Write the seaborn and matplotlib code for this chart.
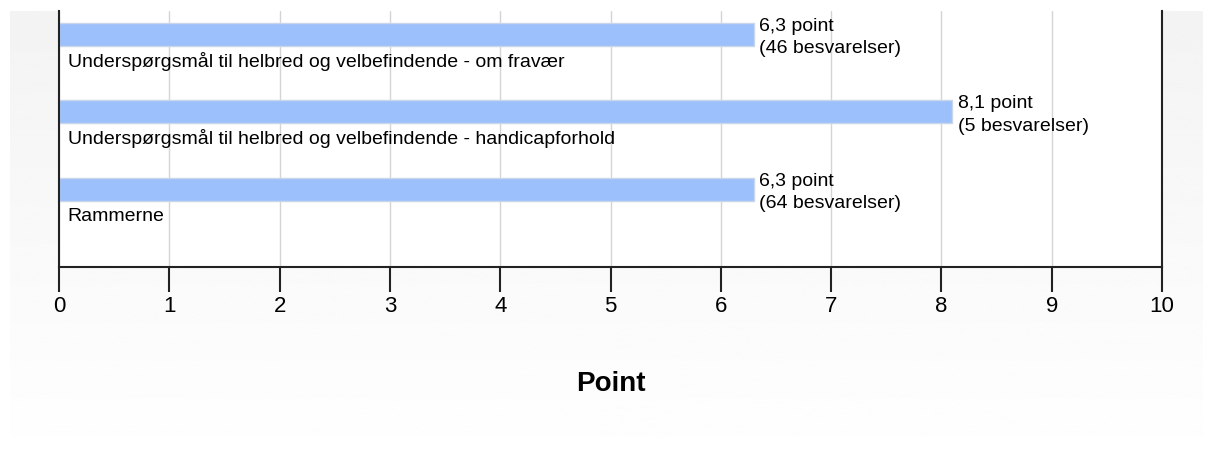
import numpy as np
import pandas as pd
import matplotlib
matplotlib.use("Agg")
import matplotlib.pyplot as plt
import seaborn as sns

kategorier = [
    "Underspørgsmål til helbred og velbefindende - om fravær",
    "Underspørgsmål til helbred og velbefindende - handicapforhold",
    "Rammerne",
]
point = [6.3, 8.1, 6.3]
besvarelser = [46, 5, 64]
x_ticks = [0, 1, 2, 3, 4, 5, 6, 7, 8, 9, 10]

df = pd.DataFrame({"kategori": kategorier, "point": point, "antal": besvarelser})

sns.set_theme(style="white")
plt.rcParams["font.family"] = ["Liberation Sans", "DejaVu Sans"]

W, H = 1213, 476
fig = plt.figure(figsize=(W / 100, H / 100), dpi=100)
fig.patch.set_facecolor("white")

# lys graa baggrund med gradient
bg = fig.add_axes([10 / W, 0, 1193 / W, 465 / H], zorder=0)
grad = np.linspace(0.953, 1.0, 256).reshape(-1, 1)
bg.imshow(grad, cmap="gray", vmin=0, vmax=1, aspect="auto")
bg.axis("off")

ax = fig.add_axes([59 / W, (H - 267) / H, (1162 - 59) / W, (267 - 11) / H], zorder=1)
ax.set_facecolor("white")

sns.barplot(data=df, x="point", y="kategori", orient="h", color="#9cc0fb",
            edgecolor="#c9d6ea", linewidth=1, width=0.3, saturation=1, ax=ax)

for i, row in df.iterrows():
    ax.text(0.08, i + 0.35, row["kategori"], fontsize=14, va="center", ha="left", color="black")
    txt = f"{row['point']:.1f}".replace(".", ",") + " point\n(" + str(row["antal"]) + " besvarelser)"
    ax.text(row["point"] + 0.05, i + 0.04, txt, fontsize=14, va="center", ha="left",
            linespacing=1.4, color="black")

ax.set_xlim(0, 10)
ax.set_ylim(3, -0.3)
ax.set_xticks(x_ticks)
ax.set_xticklabels([str(t) for t in x_ticks], fontsize=16)
ax.set_yticks([])
ax.set_ylabel("")
ax.set_xlabel("Point", fontsize=20, fontweight="bold", color="black")
ax.xaxis.set_label_coords(0.5, -0.457)
ax.xaxis.label.set_va("center")

ax.set_axisbelow(True)
ax.xaxis.grid(True, color="#d4d4d4", linewidth=1)
ax.yaxis.grid(False)

ax.spines["top"].set_visible(False)
for s in ["left", "right", "bottom"]:
    ax.spines[s].set_color("#222222")
    ax.spines[s].set_linewidth(1.5)

ax.tick_params(axis="x", direction="out", length=18, width=1.5, color="#222222",
               pad=3, bottom=True, labelcolor="black")

fig.savefig("out.png", dpi=100, facecolor="white")
